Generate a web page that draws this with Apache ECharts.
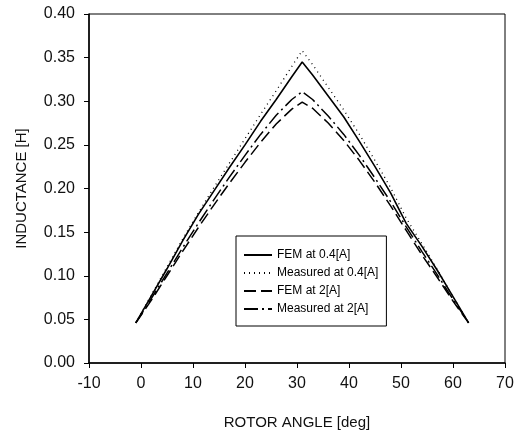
<!DOCTYPE html>
<html>
<head>
<meta charset="utf-8">
<script src="https://cdn.jsdelivr.net/npm/echarts@6/dist/echarts.min.js"></script>
<style>html,body{margin:0;padding:0;background:#fff}#c{width:526px;height:440px}</style>
</head>
<body>
<div id="c"></div>
<script>
var angles = [-1, 2, 5, 8, 11, 14, 17, 20, 23, 26, 29, 31, 33, 36, 39, 42, 45, 48, 51, 54, 57, 60, 63];
var femLow = [0.046, 0.077, 0.108, 0.140, 0.170, 0.197, 0.224, 0.250, 0.277, 0.302, 0.328, 0.345, 0.330, 0.306, 0.282, 0.254, 0.225, 0.195, 0.160, 0.134, 0.106, 0.076, 0.046];
var measLow = [0.046, 0.078, 0.110, 0.142, 0.172, 0.201, 0.229, 0.257, 0.285, 0.312, 0.340, 0.358, 0.342, 0.316, 0.290, 0.262, 0.232, 0.201, 0.166, 0.137, 0.107, 0.076, 0.046];
var femHigh = [0.046, 0.072, 0.100, 0.128, 0.155, 0.181, 0.206, 0.230, 0.253, 0.274, 0.291, 0.299, 0.292, 0.275, 0.255, 0.232, 0.207, 0.180, 0.152, 0.124, 0.098, 0.071, 0.046];
var measHigh = [0.046, 0.074, 0.103, 0.132, 0.160, 0.187, 0.213, 0.238, 0.262, 0.284, 0.302, 0.311, 0.302, 0.283, 0.262, 0.238, 0.212, 0.185, 0.156, 0.128, 0.101, 0.073, 0.046];
var seriesNames = ['FEM at 0.4[A]', 'Measured at 0.4[A]', 'FEM at 2[A]', 'Measured at 2[A]'];
var xTitle = 'ROTOR ANGLE [deg]';
var yTitle = 'INDUCTANCE [H]';

function pairs(ys) { return angles.map(function (a, i) { return [a, ys[i]]; }); }
var font = 'Liberation Sans, Arial, sans-serif';
var chart = echarts.init(document.getElementById('c'));
chart.setOption({
  animation: false,
  backgroundColor: '#fff',
  grid: { left: 89, right: 21, top: 14, bottom: 77, show: true, borderColor: '#000', borderWidth: 1 },
  xAxis: {
    type: 'value', min: -10, max: 70, interval: 10,
    name: xTitle, nameLocation: 'middle', nameGap: 52,
    nameTextStyle: { color: '#111', fontSize: 15, fontFamily: font },
    axisLine: { onZero: false, lineStyle: { color: '#000', width: 1.5 } },
    axisTick: { show: true, inside: false, length: 5, lineStyle: { color: '#000' } },
    axisLabel: { color: '#111', fontSize: 16, fontFamily: font, margin: 13 },
    splitLine: { show: false }
  },
  yAxis: {
    type: 'value', min: 0, max: 0.4, interval: 0.05,
    name: yTitle, nameLocation: 'middle', nameGap: 60,
    nameTextStyle: { color: '#111', fontSize: 15, fontFamily: font },
    axisLine: { show: true, onZero: false, lineStyle: { color: '#000', width: 1.5 } },
    axisTick: { show: true, inside: false, length: 5, lineStyle: { color: '#000' } },
    axisLabel: { color: '#111', fontSize: 16, fontFamily: font, margin: 14, formatter: function (v) { return v.toFixed(2); } },
    splitLine: { show: false }
  },
  legend: {
    orient: 'vertical', left: 236, top: 236,
    backgroundColor: '#fff', borderColor: '#000', borderWidth: 1,
    padding: [13, 8, 11, 7], itemGap: 6, itemWidth: 28, itemHeight: 10,
    itemStyle: { opacity: 0 },
    textStyle: { color: '#000', fontSize: 12, fontFamily: font },
    data: seriesNames
  },
  series: [
    { name: seriesNames[0], type: 'line', data: pairs(femLow), symbol: 'none', lineStyle: { color: '#000', width: 1.6, type: 'solid' }, itemStyle: { color: '#000' } },
    { name: seriesNames[1], type: 'line', data: pairs(measLow), symbol: 'none', lineStyle: { color: '#000', width: 1.3, type: [1, 4] }, itemStyle: { color: '#000' } },
    { name: seriesNames[2], type: 'line', data: pairs(femHigh), symbol: 'none', lineStyle: { color: '#000', width: 1.5, type: [12, 5] }, itemStyle: { color: '#000' } },
    { name: seriesNames[3], type: 'line', data: pairs(measHigh), symbol: 'none', lineStyle: { color: '#000', width: 1.5, type: [14, 4, 2, 4] }, itemStyle: { color: '#000' } }
  ]
});
</script>
</body>
</html>
